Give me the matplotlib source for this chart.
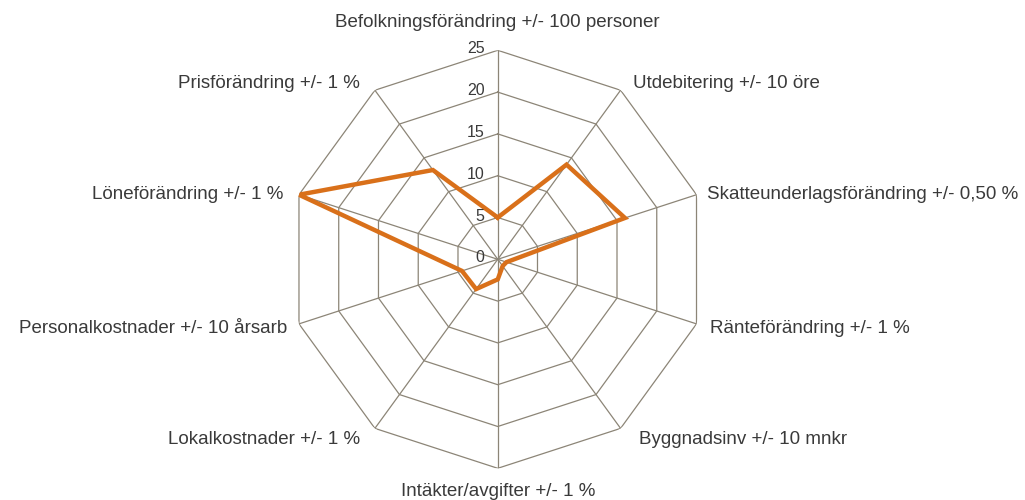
import matplotlib.pyplot as plt
import numpy as np

# Kategorier och värden
kategorier = [
    "Befolkningsförändring +/- 100 personer",
    "Utdebitering +/- 10 öre",
    "Skatteunderlagsförändring +/- 0,50 %",
    "Ränteförändring +/- 1 %",
    "Byggnadsinv +/- 10 mnkr",
    "Intäkter/avgifter +/- 1 %",
    "Lokalkostnader +/- 1 %",
    "Personalkostnader +/- 10 årsarb",
    "Löneförändring +/- 1 %",
    "Prisförändring +/- 1 %",
]
varden = [5.0, 14.0, 16.0, 1.1, 1.0, 2.4, 4.4, 4.5, 25.0, 13.2]
ringar = [0, 5, 10, 15, 20, 25]

grid_farg = "#8c8577"
linje_farg = "#d9701a"
text_farg = "#3a3a3a"

# etikettplacering i pixlar relativt yttersta hörnet (x, y)
etikett_offset = [(0, 23), (12, 2), (10, -4), (13, -9), (18, -16),
                  (0, -28), (-15, -16), (-12, -9), (-16, -4), (-15, 2)]

plt.rcParams['font.family'] = ['Liberation Sans', 'DejaVu Sans']

fig = plt.figure(figsize=(10.25, 5), dpi=100)
ax = fig.add_axes([0.2817, 0.0634, 0.4078, 0.836], projection='polar')
ax.set_theta_zero_location('N')
ax.set_theta_direction(-1)
ax.set_ylim(0, 25)
ax.grid(False)
ax.spines['polar'].set_visible(False)
ax.set_xticks([])
ax.set_yticks([])
ax.patch.set_visible(False)

n = len(kategorier)
vinklar = np.linspace(0, 2 * np.pi, n, endpoint=False)
stangd = np.append(vinklar, vinklar[0])

# Polygon-rutnät
for r in ringar[1:]:
    ax.plot(stangd, [r] * (n + 1), color=grid_farg, lw=0.9, zorder=1)
for v in vinklar:
    ax.plot([v, v], [0, 25], color=grid_farg, lw=0.9, zorder=1)

# Dataserie
ax.plot(stangd, varden + [varden[0]], color=linje_farg, lw=3.2, zorder=3,
        solid_joinstyle='miter')

# Skalvärden längs första axeln
for r in ringar:
    ax.annotate(str(r), xy=(0, r), xytext=(-13, -3), textcoords='offset pixels',
                ha='right', va='baseline', fontsize=11.5, color=text_farg)

# Kategorietiketter
for v, namn, (dx, dy) in zip(vinklar, kategorier, etikett_offset):
    if dx == 0:
        ha = 'center'
    else:
        ha = 'left' if dx > 0 else 'right'
    ax.annotate(namn, xy=(v, 25), xytext=(dx, dy), textcoords='offset pixels',
                ha=ha, va='baseline', fontsize=13.5, color=text_farg,
                annotation_clip=False)

fig.savefig("out.png", dpi=100)
